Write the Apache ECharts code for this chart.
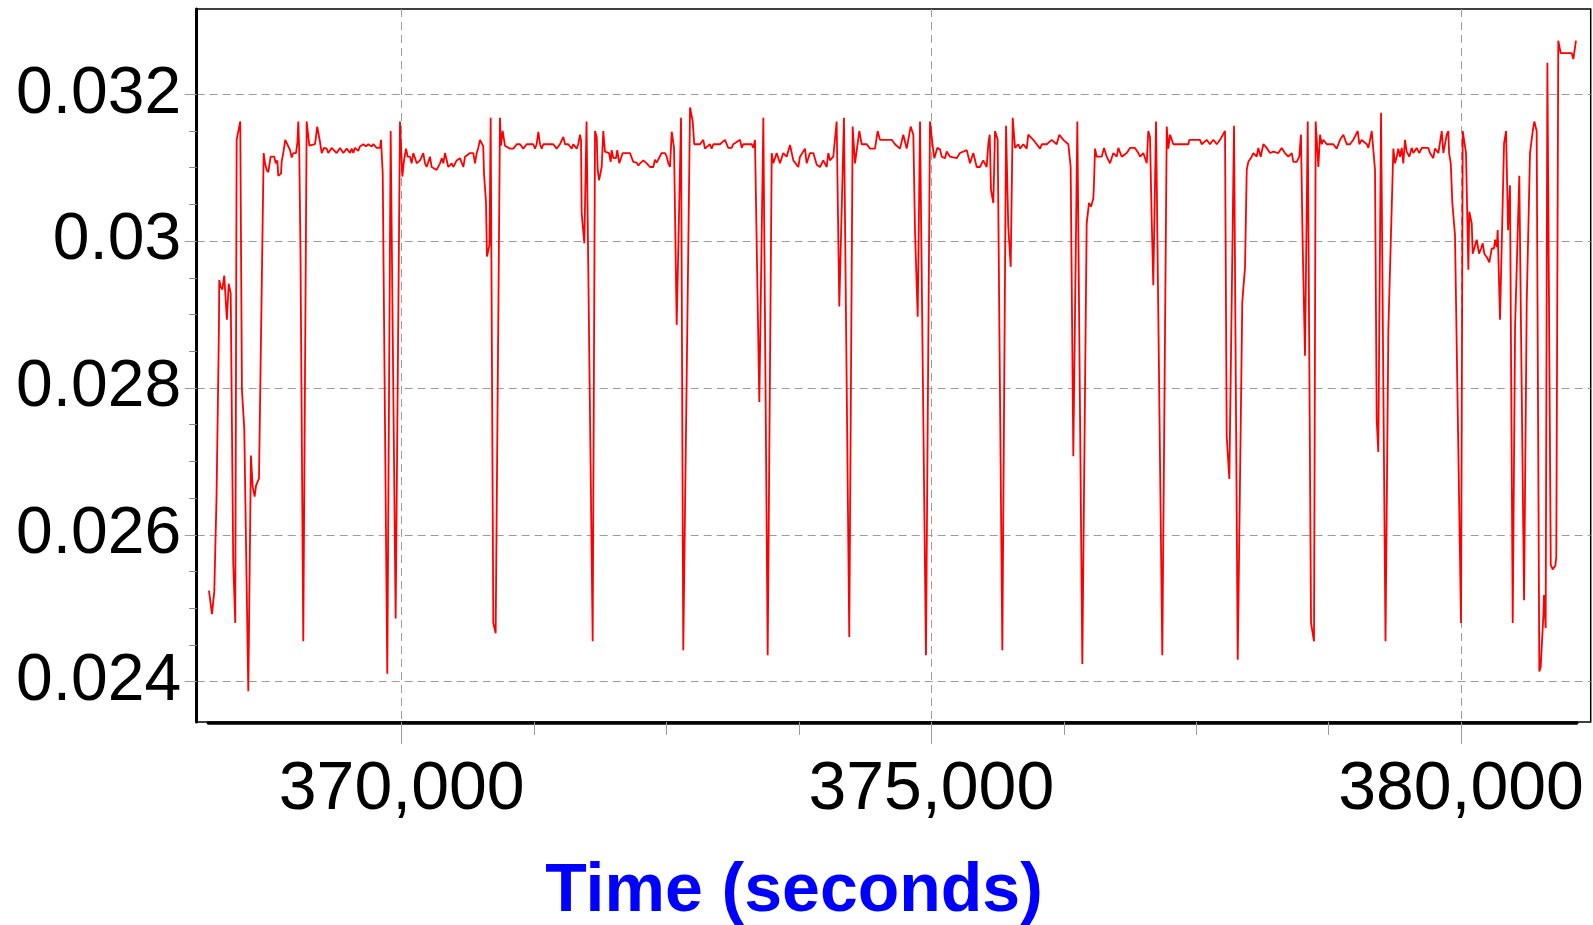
<!DOCTYPE html>
<html>
<head>
<meta charset="utf-8">
<style>
html,body{margin:0;padding:0;background:#fff;}
#chart{width:1593px;height:925px;}
</style>
<script src="https://cdn.jsdelivr.net/npm/echarts@6/dist/echarts.min.js"></script>
</head>
<body>
<div id="chart"></div>
<script>
// ---- data (time in seconds, value) ----
const times = [
368181,368209,368231,368252,368266,368275,368278,368291,368307,368325,368341,368350,368367,368386,368410,368429,368442,368476,368492,368514,
368552,368577,368593,368612,368625,368653,368697,368710,368726,368741,368763,368797,368811,368826,368835,368861,368867,368882,368901,368946,
368962,368977,369002,369015,369024,369033,369045,369071,369103,369128,369134,369182,369203,369229,369245,369267,369292,369307,369339,369354,
369386,369418,369449,369481,369512,369528,369543,369559,369590,369606,369638,369663,369685,369717,369732,369764,369795,369805,369821,369864,
369896,369943,369984,370006,370022,370041,370057,370078,370094,370110,370142,370173,370204,370220,370236,370267,370283,370330,370362,370378,
370393,370409,370440,370472,370487,370519,370550,370582,370598,370645,370676,370692,370708,370723,370739,370755,370770,370777,370796,370805,
370829,370840,370865,370887,370928,370937,370953,370975,371022,371054,371086,371117,371148,371180,371242,371258,371274,371290,371306,371322,
371337,371431,371463,371494,371526,371542,371573,371605,371620,371652,371667,371683,371693,371699,371724,371745,371803,371825,371841,371850,
371863,371888,371903,371919,371935,371957,371973,371982,371998,372023,372035,372054,372086,372124,372155,372186,372218,372234,372250,372281,
372313,372344,372375,372391,372407,372454,372486,372502,372517,372533,372549,372571,372596,372637,372658,372722,372747,372762,372816,372847,
372863,372910,372926,372942,373005,373052,373068,373083,373115,373130,373194,373210,373225,373304,373319,373335,373376,373414,373455,373493,
373508,373540,373571,373602,373634,373666,373697,373744,373760,373807,373823,373854,373886,373918,373949,373980,374012,374027,374043,374074,
374090,374106,374131,374175,374225,374257,374279,374295,374320,374342,374390,374421,374468,374493,374515,374626,374657,374704,374735,374767,
374805,374830,374846,374871,374893,374949,374987,375003,375013,375028,375056,375082,375098,375129,375145,375176,375239,375270,375334,375365,
375396,375428,375459,375490,375522,375538,375551,375563,375585,375601,375626,375670,375705,375726,375749,375768,375790,375821,375837,375868,
375900,375915,375962,376026,376042,376089,376136,376183,376208,376246,376293,376315,376340,376378,376425,376466,376488,376507,376529,376535,
376545,376561,376608,376630,376655,376686,376718,376750,376765,376797,376844,376875,376922,376954,376970,377001,377033,377048,377064,377080,
377095,377121,377180,377222,377237,377253,377284,377426,377435,377536,377552,377599,377630,377662,377694,377725,377772,377788,377813,377857,
377892,377935,377961,377977,377992,378024,378039,378071,378086,378109,378134,378166,378197,378228,378275,378307,378338,378370,378402,378417,
378449,378473,378489,378505,378527,378553,378584,378612,378628,378653,378669,378685,378700,378732,378794,378826,378858,378889,378921,378952,
378983,379025,379040,379062,379110,379125,379141,379157,379188,379204,379219,379245,379287,379314,379361,379377,379393,379408,379424,379440,
379455,379471,379487,379512,379534,379550,379582,379606,379629,379691,379707,379723,379738,379754,379786,379802,379818,379833,379849,379865,
379880,379887,379903,379918,379943,380000,380016,380047,380069,380078,380101,380110,380125,380148,380170,380189,380205,380220,380236,380248,
380267,380290,380311,380321,380337,380346,380368,380406,380425,380444,380462,380488,380510,380550,380595,380620,380651,380677,380692,380714,
380739,380752,380777,380783,380799,380815,380847,380865,380890,380899,380918,380941,381045,381060,381085
];
const values = [
0.02524,0.02492,0.02523,0.02650,0.02790,0.02885,0.02947,0.02938,0.02934,0.02953,0.02955,0.02893,0.02942,0.02929,0.02561,0.02480,0.03138,0.03163,0.02797,0.02745,
0.02387,0.02708,0.02666,0.02652,0.02667,0.02677,0.03120,0.03106,0.03097,0.03094,0.03115,0.03115,0.03106,0.03110,0.03089,0.03092,0.03108,0.03120,0.03138,0.03124,
0.03114,0.03120,0.03120,0.03133,0.03163,0.03124,0.02980,0.02455,0.03163,0.03130,0.03132,0.03132,0.03156,0.03135,0.03120,0.03127,0.03126,0.03120,0.03127,0.03126,
0.03120,0.03127,0.03120,0.03126,0.03120,0.03126,0.03120,0.03127,0.03123,0.03129,0.03132,0.03129,0.03132,0.03129,0.03132,0.03127,0.03127,0.03138,0.03092,0.02411,
0.03150,0.02486,0.03163,0.03088,0.03110,0.03126,0.03115,0.03115,0.03106,0.03120,0.03106,0.03110,0.03120,0.03106,0.03101,0.03115,0.03101,0.03097,0.03106,0.03113,
0.03106,0.03120,0.03101,0.03106,0.03101,0.03110,0.03113,0.03101,0.03115,0.03120,0.03120,0.03106,0.03120,0.03127,0.03138,0.03138,0.03129,0.03092,0.03053,0.02979,
0.02995,0.03168,0.02480,0.02466,0.03168,0.03130,0.03150,0.03130,0.03126,0.03126,0.03132,0.03132,0.03126,0.03132,0.03132,0.03126,0.03132,0.03149,0.03132,0.03126,
0.03132,0.03132,0.03126,0.03132,0.03142,0.03132,0.03132,0.03126,0.03132,0.03126,0.03132,0.03145,0.03138,0.03038,0.02997,0.03163,0.02455,0.03150,0.03142,0.03097,
0.03083,0.03101,0.03150,0.03122,0.03120,0.03120,0.03108,0.03124,0.03113,0.03113,0.03124,0.03106,0.03120,0.03120,0.03120,0.03108,0.03107,0.03103,0.03106,0.03110,
0.03106,0.03101,0.03101,0.03111,0.03107,0.03120,0.03120,0.03115,0.03106,0.03101,0.03149,0.03127,0.02886,0.03168,0.02443,0.03182,0.03163,0.03132,0.03132,0.03138,
0.03126,0.03132,0.03126,0.03132,0.03132,0.03138,0.03132,0.03127,0.03127,0.03132,0.03138,0.03127,0.03132,0.03132,0.03127,0.03138,0.02781,0.03168,0.02436,0.03120,
0.03106,0.03120,0.03106,0.03120,0.03115,0.03131,0.03110,0.03101,0.03115,0.03126,0.03106,0.03120,0.03120,0.03104,0.03101,0.03110,0.03101,0.03120,0.03110,0.03115,
0.03115,0.03163,0.02911,0.03168,0.02461,0.03156,0.03106,0.03106,0.03150,0.03132,0.03132,0.03126,0.03126,0.03150,0.03138,0.03138,0.03132,0.03126,0.03145,0.03126,
0.03156,0.03145,0.03011,0.02897,0.03163,0.02436,0.03163,0.03163,0.03129,0.03113,0.03127,0.03125,0.03115,0.03113,0.03122,0.03115,0.03113,0.03120,0.03124,0.03106,
0.03120,0.03101,0.03101,0.03110,0.03101,0.03133,0.03145,0.03070,0.03052,0.03150,0.03138,0.02443,0.03157,0.03020,0.02965,0.03168,0.03127,0.03132,0.03126,0.03132,
0.03126,0.03145,0.03138,0.03126,0.03132,0.03132,0.03138,0.03132,0.03145,0.03138,0.03132,0.03101,0.02707,0.03163,0.02424,0.03024,0.03052,0.03047,0.03058,0.03078,
0.03126,0.03115,0.03115,0.03127,0.03115,0.03106,0.03120,0.03115,0.03127,0.03115,0.03120,0.03127,0.03127,0.03120,0.03115,0.03120,0.03106,0.03150,0.03142,0.03030,
0.02940,0.03163,0.02436,0.03156,0.03126,0.03145,0.03132,0.03132,0.03138,0.03138,0.03132,0.03138,0.03132,0.03138,0.03132,0.03138,0.03150,0.02734,0.02676,0.03157,
0.02430,0.02917,0.02965,0.03097,0.03108,0.03115,0.03120,0.03115,0.03127,0.03115,0.03132,0.03127,0.03120,0.03122,0.03120,0.03127,0.03120,0.03115,0.03120,0.03108,
0.03108,0.03115,0.03145,0.02997,0.02844,0.03163,0.02480,0.02455,0.03163,0.03101,0.03145,0.03132,0.03138,0.03132,0.03132,0.03126,0.03138,0.03145,0.03132,0.03132,
0.03138,0.03150,0.03132,0.03138,0.03132,0.03127,0.03138,0.03150,0.03097,0.02756,0.02713,0.03175,0.02455,0.02880,0.03126,0.03106,0.03115,0.03126,0.03115,0.03127,
0.03106,0.03138,0.03122,0.03115,0.03127,0.03120,0.03127,0.03120,0.03127,0.03127,0.03120,0.03120,0.03113,0.03126,0.03120,0.03120,0.03150,0.03120,0.03120,0.03145,
0.03150,0.03120,0.03106,0.03052,0.03008,0.02480,0.03150,0.03120,0.02961,0.03040,0.03024,0.02983,0.02990,0.03002,0.02983,0.02990,0.02997,0.02983,0.02983,0.02977,
0.02971,0.02990,0.02990,0.03002,0.02992,0.03015,0.02893,0.03133,0.03150,0.03015,0.03076,0.02480,0.02883,0.03089,0.02511,0.02915,0.03120,0.03150,0.03163,0.03150,
0.02414,0.02420,0.02490,0.02518,0.02473,0.03243,0.02559,0.02553,0.02558,0.02570,0.03273,0.03256,0.03256,0.03248,0.03273
];
// ---- axes ----
const xMajorTicks = [370000, 375000, 380000];
const xMinorTicks = [371250, 372500, 373750, 376250, 377500, 378750];
const yMajorTicks = [0.024, 0.026, 0.028, 0.030, 0.032];
const yMinorTicks = [0.0245, 0.025, 0.0255, 0.0265, 0.027, 0.0275, 0.0285, 0.029, 0.0295, 0.0305, 0.031, 0.0315];
const xRange = [368065, 381224];
const yRange = [0.0234513, 0.0331617];
const xTitle = 'Time (seconds)';

const seriesData = times.map((t, i) => [t, values[i]]);
const FONT = 'Liberation Sans, Arial, sans-serif';
const gridColor = '#9c9c9c';

const chart = echarts.init(document.getElementById('chart'), null, {renderer: 'canvas'});
chart.setOption({
  animation: false,
  backgroundColor: '#ffffff',
  textStyle: {fontFamily: FONT},
  grid: [
    {left: 196.7, top: 9, width: 1394, height: 713, show: true, borderColor: '#000', borderWidth: 1.5, backgroundColor: 'transparent', containLabel: false, outerBoundsMode: 'none'},
    {left: 208.3, top: 9, width: 1368.4, height: 713.3, show: false, containLabel: false, outerBoundsMode: 'none'}
  ],
  xAxis: [
    {
      type: 'value', gridIndex: 0, position: 'bottom', min: xRange[0], max: xRange[1],
      axisLine: {show: false},
      axisTick: {show: true, inside: false, length: 22, customValues: xMajorTicks, lineStyle: {color: gridColor, width: 1}},
      axisLabel: {show: true, customValues: xMajorTicks, margin: 34, fontSize: 68, color: '#000', fontFamily: FONT,
        formatter: v => Number(v).toLocaleString('en-US')},
      splitLine: {show: true, lineStyle: {color: gridColor, width: 1, type: [8, 5]}}
    },
    {
      type: 'value', gridIndex: 0, position: 'bottom', min: xRange[0], max: xRange[1],
      axisLine: {show: false},
      axisTick: {show: true, inside: false, length: 13, customValues: xMinorTicks, lineStyle: {color: gridColor, width: 1}},
      axisLabel: {show: false},
      splitLine: {show: false}
    },
    {
      type: 'value', gridIndex: 1, position: 'bottom', min: 0, max: 1,
      axisLine: {show: true, lineStyle: {color: '#000', width: 3.5}},
      axisTick: {show: false}, axisLabel: {show: false}, splitLine: {show: false}
    }
  ],
  yAxis: [
    {
      type: 'value', gridIndex: 0, position: 'left', min: yRange[0], max: yRange[1],
      axisLine: {show: true, lineStyle: {color: '#000', width: 3}},
      axisTick: {show: true, inside: false, length: 12, customValues: yMajorTicks, lineStyle: {color: gridColor, width: 1}},
      axisLabel: {show: true, customValues: yMajorTicks, margin: 15.5, fontSize: 66, color: '#000', fontFamily: FONT,
        padding: [6, 0, 0, 0],
        formatter: v => String(parseFloat(Number(v).toFixed(4)))},
      splitLine: {show: true, lineStyle: {color: gridColor, width: 1, type: [8, 5]}}
    },
    {
      type: 'value', gridIndex: 0, position: 'left', min: yRange[0], max: yRange[1],
      axisLine: {show: false},
      axisTick: {show: true, inside: false, length: 7.5, customValues: yMinorTicks, lineStyle: {color: '#888', width: 1}},
      axisLabel: {show: false},
      splitLine: {show: false}
    },
    {
      type: 'value', gridIndex: 1, min: 0, max: 1, show: false
    }
  ],
  graphic: [{
    type: 'text', x: 794, y: 892.5, silent: true,
    style: {text: xTitle, fill: '#0000ff', fontSize: 68, fontWeight: 'bold', fontFamily: FONT,
      align: 'center', verticalAlign: 'middle', textAlign: 'center', textVerticalAlign: 'middle'}
  }],
  series: [{
    type: 'line', xAxisIndex: 0, yAxisIndex: 0, data: seriesData,
    showSymbol: false, symbol: 'none', smooth: false, clip: true,
    lineStyle: {color: '#ff0000', width: 1.8},
    emphasis: {disabled: true}
  }]
});
</script>
</body>
</html>
